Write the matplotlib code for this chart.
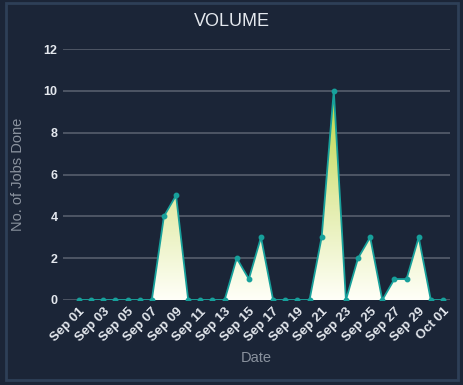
import numpy as np
import matplotlib
matplotlib.use('Agg')
import matplotlib.pyplot as plt
from matplotlib.colors import LinearSegmentedColormap
from matplotlib.patches import Rectangle

plt.rcParams['font.family'] = ['Liberation Sans', 'DejaVu Sans']

# daily job counts, Sep 01 .. Oct 01
dates = ['Sep %02d' % d for d in range(1, 31)] + ['Oct 01']
jobs = [0, 0, 0, 0, 0, 0, 0, 4, 5, 0,
        0, 0, 0, 2, 1, 3, 0, 0, 0, 0,
        3, 10, 0, 2, 3, 0, 1, 1, 3, 0,
        0]
tick_labels = dates[::2]

bg = '#1b2537'
teal = '#17a09b'
txt = '#e4e8ee'
grey = '#8a929e'

fig = plt.figure(figsize=(4.64, 3.85), dpi=100, facecolor=bg)
# panel border
fig.patches.append(Rectangle((6/464, 5/385), 452/464, 377/385, transform=fig.transFigure,
                             fill=False, edgecolor='#2e3f57', linewidth=2))
ax = fig.add_axes([63/464, 85/385, 387/464, 251/385])
ax.set_facecolor(bg)

x = np.arange(len(jobs))
y = np.array(jobs, dtype=float)

# gradient fill under the line
cmap = LinearSegmentedColormap.from_list('g', ['#fffff8', '#e0eba4', '#bad640'])
poly = ax.fill_between(x, 0, y, facecolor='none', edgecolor='none')
grad = np.linspace(0, 1, 256).reshape(-1, 1)
im = ax.imshow(grad, cmap=cmap, origin='lower', aspect='auto',
               extent=[x[0], x[-1], 0, max(jobs)], zorder=2)
im.set_clip_path(poly.get_paths()[0], transform=ax.transData)

ax.plot(x, y, color=teal, linewidth=1.3, marker='o', markersize=3.2, zorder=4)

ax.set_xlim(-1.32, 30.58)
ax.set_ylim(0, 12)
ax.set_yticks(range(0, 13, 2))
ax.set_xticks(x[::2])
ax.set_xticklabels(tick_labels, rotation=45, ha='right', rotation_mode='anchor')
ax.grid(axis='y', color='#5b6371', linewidth=1.1, zorder=1)
ax.set_axisbelow(True)
for s in ax.spines.values():
    s.set_visible(False)
ax.tick_params(length=0, colors=txt, labelsize=9, pad=4)
ax.tick_params(axis='x', labelsize=9.5)
for lab in ax.get_xticklabels() + ax.get_yticklabels():
    lab.set_fontweight('bold')

ax.set_xlabel('Date', color=grey, fontsize=10.5, labelpad=5)
ax.set_ylabel('No. of Jobs Done', color=grey, fontsize=10.5, labelpad=13)
fig.text(0.5, 1 - 22/385, 'VOLUME', color=txt, fontsize=13, ha='center', va='center')

fig.savefig('out.png', dpi=100, facecolor=bg)
